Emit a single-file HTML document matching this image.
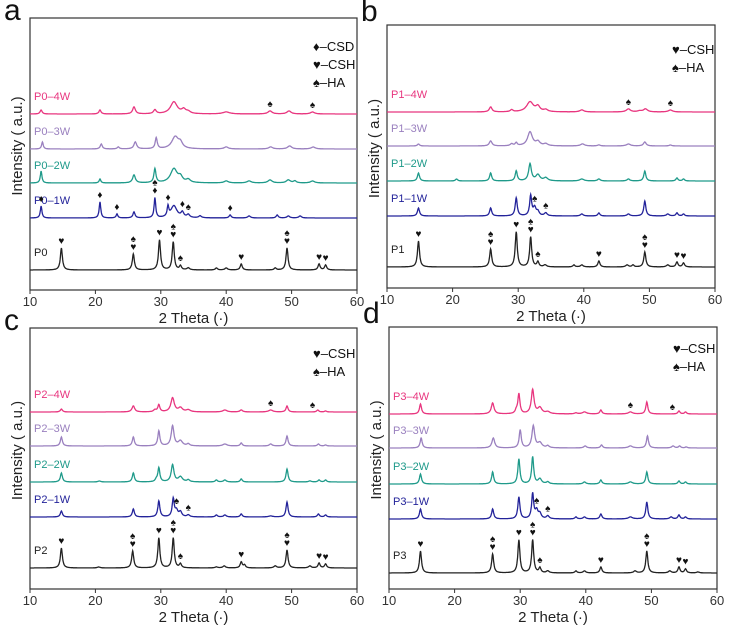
<!DOCTYPE html>
<html><head><meta charset="utf-8"><style>
body{margin:0;background:#fff;}
svg{display:block;font-family:"Liberation Sans",sans-serif;}
</style></head><body>
<svg id="fig" width="729" height="632" viewBox="0 0 729 632"></svg>
<script>
// ---- data ----
const colors = ["#222222","#23239a","#1f9a8a","#9a80bf","#e8367f"];
const panelLetters = ["a","b","c","d"];
const xTicks = [10,20,30,40,50,60];
const seriesNamesA = ["P0","P0-1W","P0-2W","P0-3W","P0-4W"];
const seriesNamesB = ["P1","P1-1W","P1-2W","P1-3W","P1-4W"];
const seriesNamesC = ["P2","P2-1W","P2-2W","P2-3W","P2-4W"];
const seriesNamesD = ["P3","P3-1W","P3-2W","P3-3W","P3-4W"];
const offsetsA = [20,72,107,141,176];
const offsetsB = [21,72,107,142,176];
const offsetsC = [21,72,107,143,177];
const offsetsD = [16,70,105,141,175];
// peaks: [2theta, height, width]
const peaksA = [
 [[14.8,22,.15],[25.8,16,.15],[29.8,30,.15],[31.9,28,.15],[33,4,.15],[34.2,2,.2],[38.5,2,.15],[40,2,.2],[42.3,6,.15],[47.5,2,.15],[49.3,22,.15],[54.2,6,.15],[55.2,5,.15]],
 [[11.7,12,.12],[20.7,16,.12],[23.3,4,.12],[25.9,6,.15],[29.1,20,.12],[31.1,10,.12],[32,12,.45],[33.3,5,.2],[34.2,3,.2],[36,2,.2],[40.6,3,.15],[43.5,2,.2],[47.8,3,.15],[49.5,2,.2],[51.3,2,.2]],
 [[11.7,12,.12],[20.7,4,.12],[25.9,8,.2],[29.1,14,.15],[32,14,.5],[33,5,.3],[34.2,3,.3],[40,2,.3],[43.5,2,.3],[46.7,3,.3],[49.5,3,.3],[50.5,2,.2],[53.2,2,.3]],
 [[11.9,7,.12],[20.9,5,.15],[23.5,2,.15],[26.1,7,.2],[29.3,11,.15],[32.2,12,.5],[33,5,.3],[40,2,.3],[46.8,2,.3],[49.7,3,.3],[53.3,2,.3]],
 [[11.7,4,.15],[20.7,4,.15],[25.9,7,.2],[29.1,4,.2],[32,12,.5],[33.5,4,.3],[34.2,2,.3],[40,2,.5],[46.7,3,.3],[49.6,3,.3],[53.2,2,.3]]
];
const peaksB = [
 [[14.8,26,.15],[25.8,18,.15],[29.7,35,.15],[31.9,30,.15],[33,5,.15],[34.1,2,.2],[38.5,2,.15],[39.7,2,.2],[42.3,6,.15],[46.6,2,.2],[47.5,2,.15],[49.3,15,.15],[52.8,2,.2],[54.2,5,.15],[55.2,4,.15]],
 [[14.8,8,.15],[25.8,8,.15],[29.7,18,.15],[31.9,20,.15],[32.5,8,.2],[33,4,.2],[34.2,3,.2],[39.7,2,.2],[42.3,3,.15],[46.8,2,.2],[49.3,15,.15],[52.8,2,.2],[54.2,3,.15],[55.2,2,.15]],
 [[14.8,8,.15],[20.6,2,.15],[25.8,8,.15],[29.7,10,.15],[31.8,17,.2],[33,6,.3],[34.2,3,.3],[39.7,2,.3],[42.3,2,.2],[46.8,2,.2],[49.3,10,.15],[54.2,3,.15],[55.2,2,.15]],
 [[14.8,2,.15],[25.8,5,.2],[29,2,.2],[29.7,3,.15],[31.8,14,.35],[33,4,.3],[34.2,2,.3],[39.8,2,.3],[42.3,1,.2],[46.8,2,.3],[49.3,4,.2],[53.2,1,.2]],
 [[25.8,5,.2],[29,2,.2],[31.8,10,.5],[33,5,.3],[34.2,2,.3],[39.7,2,.3],[46.8,3,.3],[48.5,1,.3],[49.4,3,.3],[53.2,2,.3]]
];
const peaksC = [
 [[14.8,20,.15],[20.5,1,.2],[25.7,17,.15],[29.7,30,.15],[31.9,30,.15],[33,4,.15],[38.5,1,.2],[39.7,2,.2],[42.3,6,.15],[42.8,3,.15],[47.5,2,.2],[49.3,18,.15],[52.8,2,.2],[54.2,5,.15],[55.2,4,.15]],
 [[14.8,6,.15],[25.8,8,.15],[29.7,16,.15],[31.9,18,.15],[32.4,6,.2],[33,5,.2],[34.2,2,.2],[38.5,2,.15],[39.8,2,.2],[42.3,3,.15],[46.8,1,.3],[49.3,15,.15],[54.1,3,.15],[55.2,2,.15]],
 [[14.8,9,.15],[20.6,1,.2],[25.8,9,.15],[29.3,2,.15],[29.7,14,.15],[31.8,17,.2],[33,5,.3],[34.2,2,.2],[38.5,2,.15],[39.8,2,.2],[42.3,3,.15],[49.3,13,.15],[52.8,1,.2],[54.2,2,.15],[55.2,2,.15]],
 [[14.8,9,.15],[25.8,9,.15],[29.7,15,.15],[31.8,20,.2],[33,5,.3],[34.2,2,.2],[39.8,2,.3],[42.3,3,.15],[46.8,2,.2],[49.3,10,.15],[54.1,2,.15],[55.2,1,.15]],
 [[14.8,3,.15],[25.8,6,.2],[29.1,2,.2],[29.7,7,.15],[31.8,14,.25],[33,4,.3],[34.2,2,.3],[39.8,2,.3],[42.3,2,.2],[46.8,2,.3],[49.3,6,.15],[54,2,.15],[55.2,1,.15]]
];
const peaksD = [
 [[14.8,22,.15],[25.8,19,.15],[29.8,33,.15],[31.9,33,.15],[33,5,.15],[34.2,2,.2],[38.5,2,.15],[39.8,2,.2],[42.3,6,.15],[47.5,2,.2],[49.3,22,.15],[52.8,2,.2],[54.2,6,.15],[55.2,4,.15],[57.1,1,.2]],
 [[14.8,10,.15],[25.8,10,.15],[29.8,22,.15],[31.9,25,.15],[32.5,8,.2],[33,5,.2],[34.2,3,.2],[38.5,2,.15],[39.8,2,.2],[42.3,5,.15],[46.8,2,.3],[49.3,17,.15],[53,2,.2],[54.2,4,.15],[55.2,2,.15]],
 [[14.8,10,.15],[25.8,12,.15],[29.8,25,.15],[31.9,27,.15],[33,5,.25],[34.2,2,.2],[39.8,2,.2],[42.3,4,.15],[46.8,2,.3],[49.3,12,.15],[54.2,3,.15],[55.2,2,.15]],
 [[14.9,10,.15],[25.9,10,.2],[30,18,.15],[32,22,.2],[33,5,.3],[34.2,2,.2],[39.9,2,.2],[42.4,3,.15],[46.8,2,.3],[49.4,12,.15],[53.3,2,.2],[54.3,2,.15],[55.3,1,.15]],
 [[14.8,10,.15],[25.8,11,.2],[29.4,3,.15],[29.8,20,.15],[31.9,24,.2],[33,6,.3],[34.2,2,.3],[38.5,1,.2],[39.8,2,.3],[42.3,4,.15],[46.8,2,.3],[49.3,12,.15],[54.2,3,.15],[55.2,2,.15]]
];
// markers: [seriesIndex, 2theta, glyphs top-to-bottom]
const markersA = [[0,14.8,"♥"],[0,25.8,"♠♥"],[0,29.8,"♥"],[0,31.9,"♠♥"],[0,33,"♠"],[0,42.3,"♥"],[0,49.3,"♠♥"],[0,54.2,"♥"],[0,55.2,"♥"],
 [1,11.7,"♦"],[1,20.7,"♦"],[1,23.3,"♦"],[1,29.1,"♠♦"],[1,31.1,"♦"],[1,33.3,"♦"],[1,34.2,"♠"],[1,40.6,"♦"],[4,46.7,"♠"],[4,53.2,"♠"]];
const markersB = [[0,14.8,"♥"],[0,25.8,"♠♥"],[0,29.7,"♥"],[0,31.9,"♠♥"],[0,33,"♠"],[0,42.3,"♥"],[0,49.3,"♠♥"],[0,54.2,"♥"],[0,55.2,"♥"],
 [1,32.5,"♠"],[1,34.2,"♠"],[4,46.8,"♠"],[4,53.2,"♠"]];
const markersC = [[0,14.8,"♥"],[0,25.7,"♠♥"],[0,29.7,"♥"],[0,31.9,"♠♥"],[0,33,"♠"],[0,42.3,"♥"],[0,49.3,"♠♥"],[0,54.2,"♥"],[0,55.2,"♥"],
 [1,32.4,"♠"],[1,34.2,"♠"],[4,46.8,"♠"],[4,53.2,"♠"]];
const markersD = [[0,14.8,"♥"],[0,25.8,"♠♥"],[0,29.8,"♥"],[0,31.9,"♠♥"],[0,33,"♠"],[0,42.3,"♥"],[0,49.3,"♠♥"],[0,54.2,"♥"],[0,55.2,"♥"],
 [1,32.5,"♠"],[1,34.2,"♠"],[4,46.8,"♠"],[4,53.2,"♠"]];
const legendA = ["♦–CSD","♥–CSH","♠–HA"];
const legendB = ["♥–CSH","♠–HA"];

// ---- layout ----
const panels = [
 {x0:30,x1:357,y0:18,y1:290,names:seriesNamesA,offs:offsetsA,peaks:peaksA,marks:markersA,legend:legendA,lx:313,ly:51},
 {x0:387,x1:715,y0:25,y1:288,names:seriesNamesB,offs:offsetsB,peaks:peaksB,marks:markersB,legend:legendB,lx:672,ly:54},
 {x0:30,x1:357,y0:328,y1:589,names:seriesNamesC,offs:offsetsC,peaks:peaksC,marks:markersC,legend:legendB,lx:313,ly:358},
 {x0:389,x1:717,y0:327,y1:589,names:seriesNamesD,offs:offsetsD,peaks:peaksD,marks:markersD,legend:legendB,lx:673,ly:353}
];
const NS="http://www.w3.org/2000/svg";
const svg=document.getElementById("fig");
function el(tag,attrs,parent,text){const e=document.createElementNS(NS,tag);for(const k in attrs)e.setAttribute(k,attrs[k]);if(text!==undefined)e.textContent=text;(parent||svg).appendChild(e);return e;}
function profile(peaks,t){let s=0;for(const p of peaks){const d=(t-p[0])/(p[2]*1.25);s+=p[1]/(1+d*d);}return s;}

panels.forEach((P,pi)=>{
  const g=el("g",{});
  
  
  const xs=t=>P.x0+(t-10)/50*(P.x1-P.x0);
  const ys=v=>P.y1-v;
  const L=el("text",{x:P.x0-26,y:P.y0-(pi%2?4:-2),"font-size":30,fill:"#111"},g,panelLetters[pi]);
  
  
  const fr=el("rect",{x:P.x0,y:P.y0,width:P.x1-P.x0,height:P.y1-P.y0,fill:"none",stroke:"#333","stroke-width":1.2},g);
  
  
  xTicks.forEach(t=>{
    el("line",{x1:xs(t),x2:xs(t),y1:P.y1,y2:P.y1+4,stroke:"#333"},g);
    const tl=el("text",{x:xs(t),y:P.y1+16,"font-size":13,"text-anchor":"middle",fill:"#333"},g,String(t));
    
    
  });
  const xt=el("text",{x:(P.x0+P.x1)/2,y:P.y1+33,"font-size":15,"text-anchor":"middle",fill:"#222"},g,"2 Theta (·)");
  
  
  const yt=el("text",{x:0,y:0,"font-size":15,"text-anchor":"middle",fill:"#222",transform:`translate(${P.x0-8},${(P.y0+P.y1)/2-8}) rotate(-90)`},g,"Intensity ( a.u.)");
  
  
  P.names.forEach((nm,si)=>{
    let d="";
    for(let t=10;t<=60;t+=0.05){const v=P.offs[si]+profile(P.peaks[si],t);d+=(t===10?"M":"L")+xs(t).toFixed(1)+","+ys(v).toFixed(1);}
    const path=el("path",{d:d,fill:"none",stroke:colors[si],"stroke-width":1.3},g);
    
    
    const lab=el("text",{x:P.x0+4,y:ys(P.offs[si])-14,"font-size":11,fill:colors[si]},g,nm.replace("-","–"));
    
    
  });
  P.marks.forEach(m=>{
    const top=ys(P.offs[m[0]]+profile(P.peaks[m[0]],m[1]));
    const n=m[2].length;
    for(let k=0;k<n;k++){
      const mk=el("text",{x:xs(m[1]),y:top-4-(n-1-k)*8,"font-size":10,"text-anchor":"middle",fill:"#111"},g,m[2][k]);
      
      
    }
  });
  P.legend.forEach((s,i)=>{
    const lg=el("text",{x:P.lx,y:P.ly+i*18,"font-size":13,fill:"#111"},g,s);
    
    
  });
});
</script>
</body></html>
